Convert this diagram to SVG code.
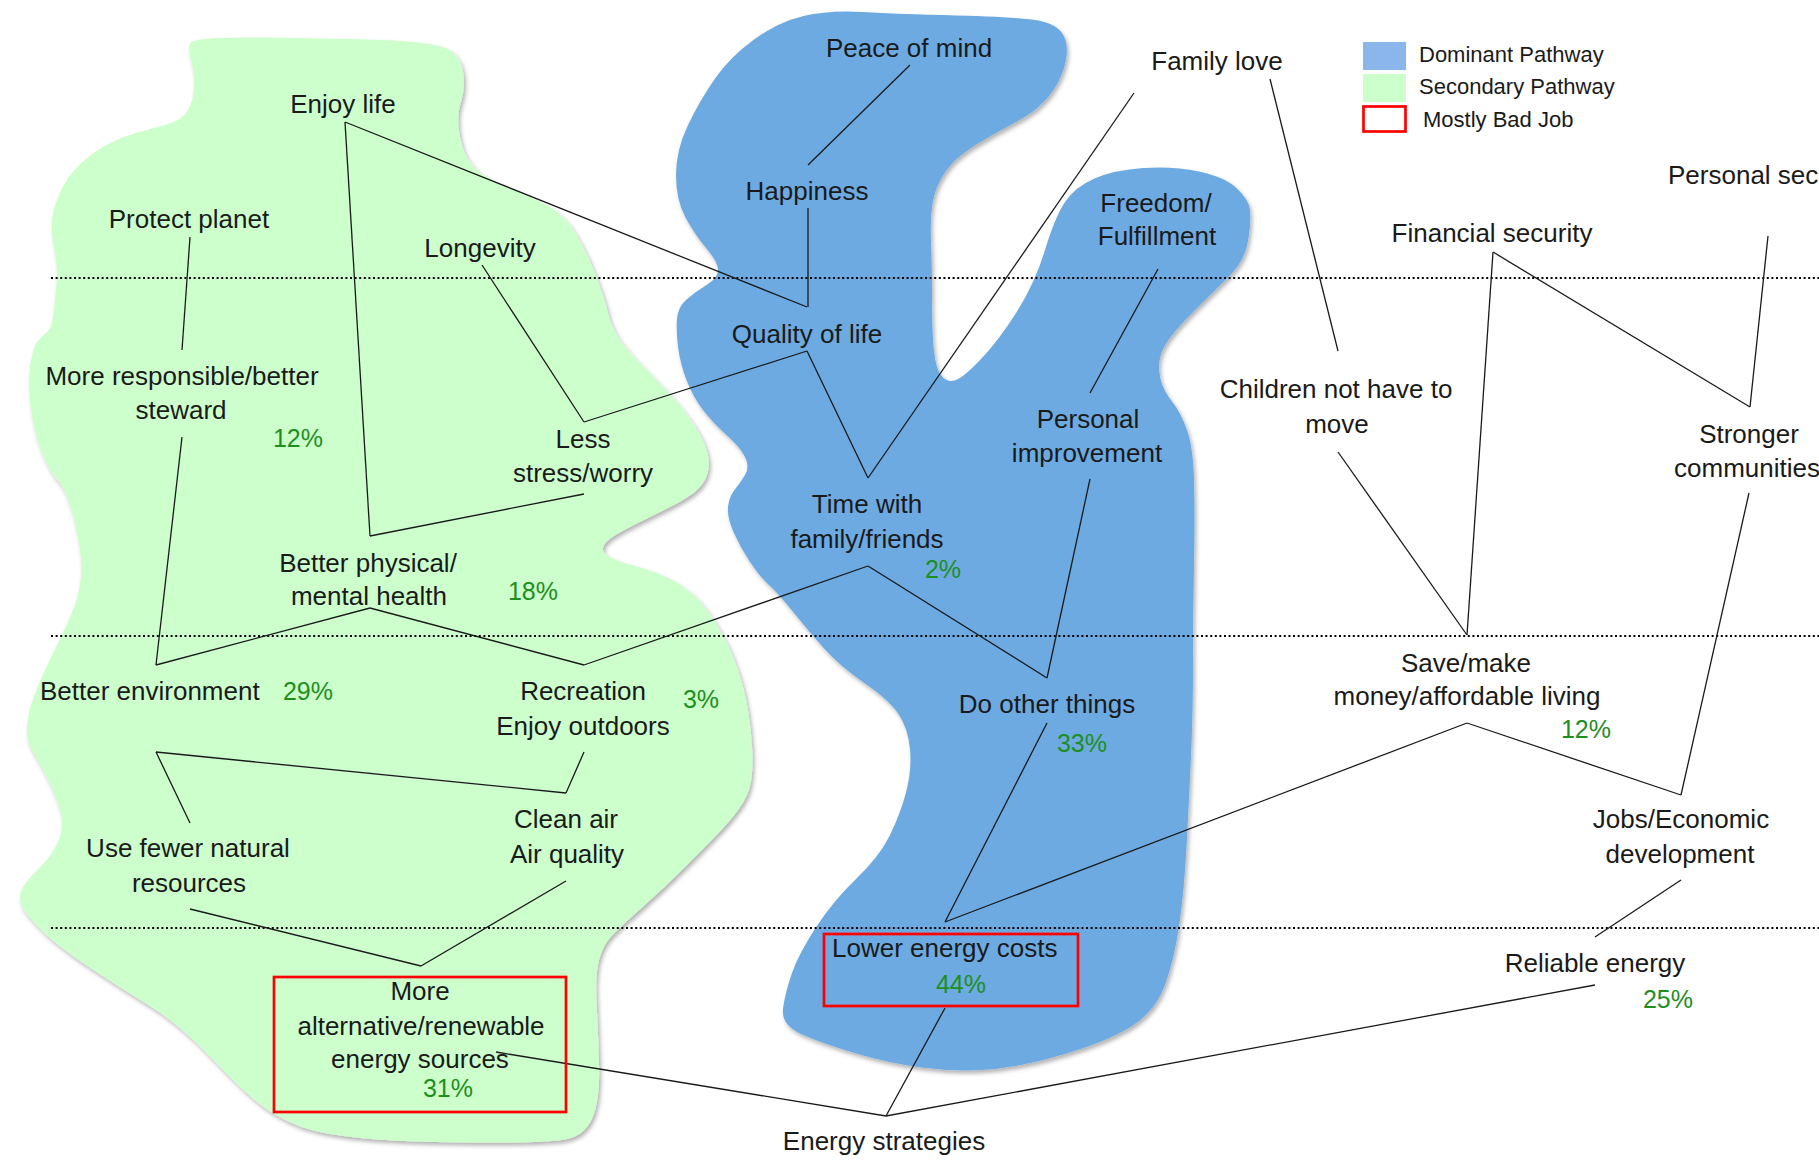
<svg xmlns="http://www.w3.org/2000/svg" width="1819" height="1161" viewBox="0 0 1819 1161">
<style>
text{font-family:"Liberation Sans",Arial,sans-serif;fill:#1a1a1a}
.l{font-size:26px;text-anchor:middle}
.ls{font-size:26px}
.p{font-size:25px;fill:#1e8f1e;text-anchor:middle}
.lg{font-size:22px}
.c line{stroke:#1a1a1a;stroke-width:1.3}
.dot{stroke:#000;stroke-width:2.2;stroke-dasharray:2 2.6}
.bad{fill:none;stroke:#ff0000;stroke-width:2.7}
</style>
<defs>
<filter id="sh" x="-5%" y="-5%" width="110%" height="110%">
<feDropShadow dx="2" dy="3" stdDeviation="2" flood-color="#000" flood-opacity="0.3"/>
</filter>
</defs>
<rect width="1819" height="1161" fill="#fff"/>
<g id="secondary-pathway">
<path filter="url(#sh)" fill="#ccffcc" d="M190,43.5 Q192,37 256,37.5 Q320,38 380,40 Q440,42 451,51 Q462,60 463.5,75 Q465,90 460.5,103.5 Q456,117 460,137.5 Q464,158 475,168 Q486,178 508,187 Q530,196 547.5,205.5 Q565,215 576.5,235 Q588,255 596.5,277.5 Q605,300 608.5,315 Q612,330 622.5,343.5 Q633,357 650,373.5 Q667,390 682,408.5 Q697,427 703.5,442 Q710,457 708.5,468.5 Q707,480 698.5,488.5 Q690,497 670,507 Q650,517 630,527 Q610,537 605,543.5 Q600,550 606.5,555 Q613,560 631.5,565 Q650,570 665,576.5 Q680,583 693.5,595 Q707,607 721,632 Q735,657 742.5,685 Q750,713 752,746.5 Q754,780 747,795 Q740,810 724.5,826.5 Q709,843 687,865 Q665,887 642.5,907 Q620,927 611.5,936 Q603,945 599,960 Q595,975 596.5,1002.5 Q598,1030 599,1065 Q600,1100 592.5,1117.5 Q585,1135 567.5,1139 Q550,1143 472.5,1142.5 Q395,1142 355.5,1137.5 Q316,1133 296.5,1125 Q277,1117 261,1105 Q245,1093 211.5,1058 Q178,1023 148.5,1005 Q119,987 89,967 Q59,947 43.5,932 Q28,917 23,908.5 Q18,900 21,891.5 Q24,883 37.5,870 Q51,857 58,842 Q65,827 60,810 Q55,793 46.5,776.5 Q38,760 32,750 Q26,740 27,726.5 Q28,713 34,696.5 Q40,680 51.5,656.5 Q63,633 71,615 Q79,597 81,577 Q83,557 75,523.5 Q67,490 58.5,481.5 Q50,473 41.5,451.5 Q33,430 30.5,405 Q28,380 30.5,363.5 Q33,347 37.5,341.5 Q42,336 47,332 Q52,328 53.5,314 Q55,300 56.5,283.5 Q58,267 54.5,250 Q51,233 52,220 Q53,207 62,188.5 Q71,170 91,155 Q111,140 134.5,133.5 Q158,127 170,123.5 Q182,120 188,110 Q194,100 194,85 Q194,70 191,60 Q188,50 190,43.5 Z"/>
</g>
<g id="dominant-pathway">
<path filter="url(#sh)" fill="#6caae1" d="M803.5,16 Q829,10 863,12 Q897,14 956,15.5 Q1015,17 1035,20 Q1055,23 1062,33 Q1069,43 1066,60 Q1063,77 1051,93.5 Q1039,110 1017,121.5 Q995,133 975.5,145 Q956,157 946,171 Q936,185 933,201 Q930,217 931,242 Q932,267 932,300 Q932,333 934,351.5 Q936,370 942,376.5 Q948,383 956,380 Q964,377 981.5,358.5 Q999,340 1017,311.5 Q1035,283 1045,250 Q1055,217 1065,202 Q1075,187 1094.5,178.5 Q1114,170 1143.5,168 Q1173,166 1199,171.5 Q1225,177 1237,188.5 Q1249,200 1250,210 Q1251,220 1249,235 Q1247,250 1241.5,260 Q1236,270 1223,282.5 Q1210,295 1195,310 Q1180,325 1171,336.5 Q1162,348 1160,358 Q1158,368 1160.5,379 Q1163,390 1172,401.5 Q1181,413 1187,430 Q1193,447 1194,480 Q1195,513 1194,563 Q1193,613 1193,663 Q1193,713 1191,756.5 Q1189,800 1186.5,846.5 Q1184,893 1179,926.5 Q1174,960 1165,985 Q1156,1010 1133.5,1025 Q1111,1040 1066.5,1053.5 Q1022,1067 988.5,1069.5 Q955,1072 921.5,1067.5 Q888,1063 854.5,1053 Q821,1043 801,1034 Q781,1025 783,1009 Q785,993 792,973 Q799,953 816.5,926.5 Q834,900 856.5,878.5 Q879,857 889.5,836 Q900,815 906,792.5 Q912,770 910,749 Q908,728 898.5,714 Q889,700 865,683.5 Q841,667 825.5,650 Q810,633 794,613 Q778,593 769,585 Q760,577 750,562 Q740,547 733.5,532 Q727,517 728,507 Q729,497 734.5,490 Q740,483 745,475 Q750,467 745,457 Q740,447 726.5,435 Q713,423 703,410 Q693,397 686.5,380 Q680,363 678,346.5 Q676,330 677,318.5 Q678,307 686.5,299.5 Q695,292 706.5,285 Q718,278 718,270 Q718,262 706.5,248.5 Q695,235 685.5,217.5 Q676,200 676,175 Q676,150 688,125 Q700,100 715,78.5 Q730,57 754,39.5 Q778,22 803.5,16 Z"/>
</g>
<g id="levels">
<line class="dot" x1="51" y1="278" x2="1819" y2="278"/>
<line class="dot" x1="51" y1="636" x2="1819" y2="636"/>
<line class="dot" x1="51" y1="928" x2="1819" y2="928"/>
</g>
<g id="connectors" class="c">
<line x1="345" y1="122" x2="807" y2="307"/>
<line x1="808" y1="208" x2="808" y2="307"/>
<line x1="910" y1="65" x2="808" y2="165"/>
<line x1="345" y1="122" x2="370" y2="536"/>
<line x1="370" y1="536" x2="584" y2="494"/>
<line x1="482" y1="265" x2="584" y2="422"/>
<line x1="584" y1="422" x2="807" y2="351"/>
<line x1="807" y1="351" x2="868" y2="478"/>
<line x1="1134" y1="93" x2="868" y2="478"/>
<line x1="190" y1="237" x2="182" y2="350"/>
<line x1="182" y1="437" x2="156" y2="665"/>
<line x1="156" y1="665" x2="370" y2="608"/>
<line x1="370" y1="608" x2="584" y2="665"/>
<line x1="584" y1="665" x2="868" y2="566"/>
<line x1="868" y1="566" x2="1047" y2="678"/>
<line x1="1090" y1="479" x2="1047" y2="678"/>
<line x1="1158" y1="269" x2="1090" y2="393"/>
<line x1="1047" y1="723" x2="945" y2="922"/>
<line x1="1467" y1="723" x2="945" y2="922"/>
<line x1="1467" y1="723" x2="1681" y2="795"/>
<line x1="1749" y1="493" x2="1681" y2="795"/>
<line x1="1270" y1="79" x2="1338" y2="351"/>
<line x1="1338" y1="452" x2="1467" y2="635"/>
<line x1="1467" y1="635" x2="1493" y2="252"/>
<line x1="1493" y1="252" x2="1750" y2="407"/>
<line x1="1768" y1="236" x2="1750" y2="407"/>
<line x1="1681" y1="880" x2="1595" y2="937"/>
<line x1="1595" y1="985" x2="886" y2="1116"/>
<line x1="945" y1="1008" x2="886" y2="1116"/>
<line x1="496" y1="1052" x2="886" y2="1116"/>
<line x1="156" y1="752" x2="566" y2="793"/>
<line x1="584" y1="752" x2="566" y2="793"/>
<line x1="156" y1="752" x2="190" y2="823"/>
<line x1="190" y1="909" x2="421" y2="966"/>
<line x1="566" y1="881" x2="421" y2="966"/>
</g>
<g id="enjoy-life"><text class="l" x="343" y="113">Enjoy life</text></g>
<g id="protect-planet"><text class="l" x="189" y="228">Protect planet</text></g>
<g id="longevity"><text class="l" x="480" y="257">Longevity</text></g>
<g id="more-responsible"><text class="l" x="182" y="385">More responsible/better</text><text class="l" x="181" y="419">steward</text><text class="p" x="298" y="447">12%</text></g>
<g id="less-stress"><text class="l" x="583" y="448">Less</text><text class="l" x="583" y="482">stress/worry</text></g>
<g id="better-health"><text class="l" x="368" y="572">Better physical/</text><text class="l" x="369" y="605">mental health</text><text class="p" x="533" y="600">18%</text></g>
<g id="better-environment"><text class="ls" x="40" y="700">Better environment</text><text class="p" x="308" y="700">29%</text></g>
<g id="recreation"><text class="l" x="583" y="700">Recreation</text><text class="l" x="583" y="735">Enjoy outdoors</text><text class="p" x="701" y="708">3%</text></g>
<g id="use-fewer"><text class="l" x="188" y="857">Use fewer natural</text><text class="l" x="189" y="892">resources</text></g>
<g id="clean-air"><text class="l" x="566" y="828">Clean air</text><text class="l" x="567" y="863">Air quality</text></g>
<g id="more-alternative"><text class="l" x="420" y="1000">More</text><text class="l" x="421" y="1035">alternative/renewable</text><text class="l" x="420" y="1068">energy sources</text><text class="p" x="448" y="1097">31%</text><rect class="bad" x="274" y="977" width="292" height="135"/></g>
<g id="peace-of-mind"><text class="l" x="909" y="57">Peace of mind</text></g>
<g id="happiness"><text class="l" x="807" y="200">Happiness</text></g>
<g id="quality-of-life"><text class="l" x="807" y="343">Quality of life</text></g>
<g id="family-love"><text class="l" x="1217" y="70">Family love</text></g>
<g id="freedom"><text class="l" x="1156" y="212">Freedom/</text><text class="l" x="1157" y="245">Fulfillment</text></g>
<g id="personal-improvement"><text class="l" x="1088" y="428">Personal</text><text class="l" x="1087" y="462">improvement</text></g>
<g id="time-with-family"><text class="l" x="867" y="513">Time with</text><text class="l" x="867" y="548">family/friends</text><text class="p" x="943" y="578">2%</text></g>
<g id="do-other-things"><text class="l" x="1047" y="713">Do other things</text><text class="p" x="1082" y="752">33%</text></g>
<g id="lower-energy-costs"><text class="ls" x="832" y="957">Lower energy costs</text><text class="p" x="961" y="993">44%</text><rect class="bad" x="824" y="934" width="254" height="72"/></g>
<g id="energy-strategies"><text class="l" x="884" y="1150">Energy strategies</text></g>
<g id="children"><text class="l" x="1336" y="398">Children not have to</text><text class="l" x="1337" y="433">move</text></g>
<g id="financial-security"><text class="l" x="1492" y="242">Financial security</text></g>
<g id="personal-security"><text class="ls" x="1668" y="184">Personal sec</text></g>
<g id="stronger-communities"><text class="l" x="1749" y="443">Stronger</text><text class="l" x="1747" y="477">communities</text></g>
<g id="save-money"><text class="l" x="1466" y="672">Save/make</text><text class="l" x="1467" y="705">money/affordable living</text><text class="p" x="1586" y="738">12%</text></g>
<g id="jobs"><text class="l" x="1681" y="828">Jobs/Economic</text><text class="l" x="1680" y="863">development</text></g>
<g id="reliable-energy"><text class="l" x="1595" y="972">Reliable energy</text><text class="p" x="1668" y="1008">25%</text></g>
<g id="legend">
<rect x="1363" y="42" width="43" height="28" fill="#8ab6ec"/>
<rect x="1363" y="74" width="43" height="28" fill="#ccffcc"/>
<rect class="bad" x="1363.5" y="106.5" width="42" height="25"/>
<text class="lg" x="1419" y="62">Dominant Pathway</text>
<text class="lg" x="1419" y="94">Secondary Pathway</text>
<text class="lg" x="1423" y="127">Mostly Bad Job</text>
</g>
</svg>
